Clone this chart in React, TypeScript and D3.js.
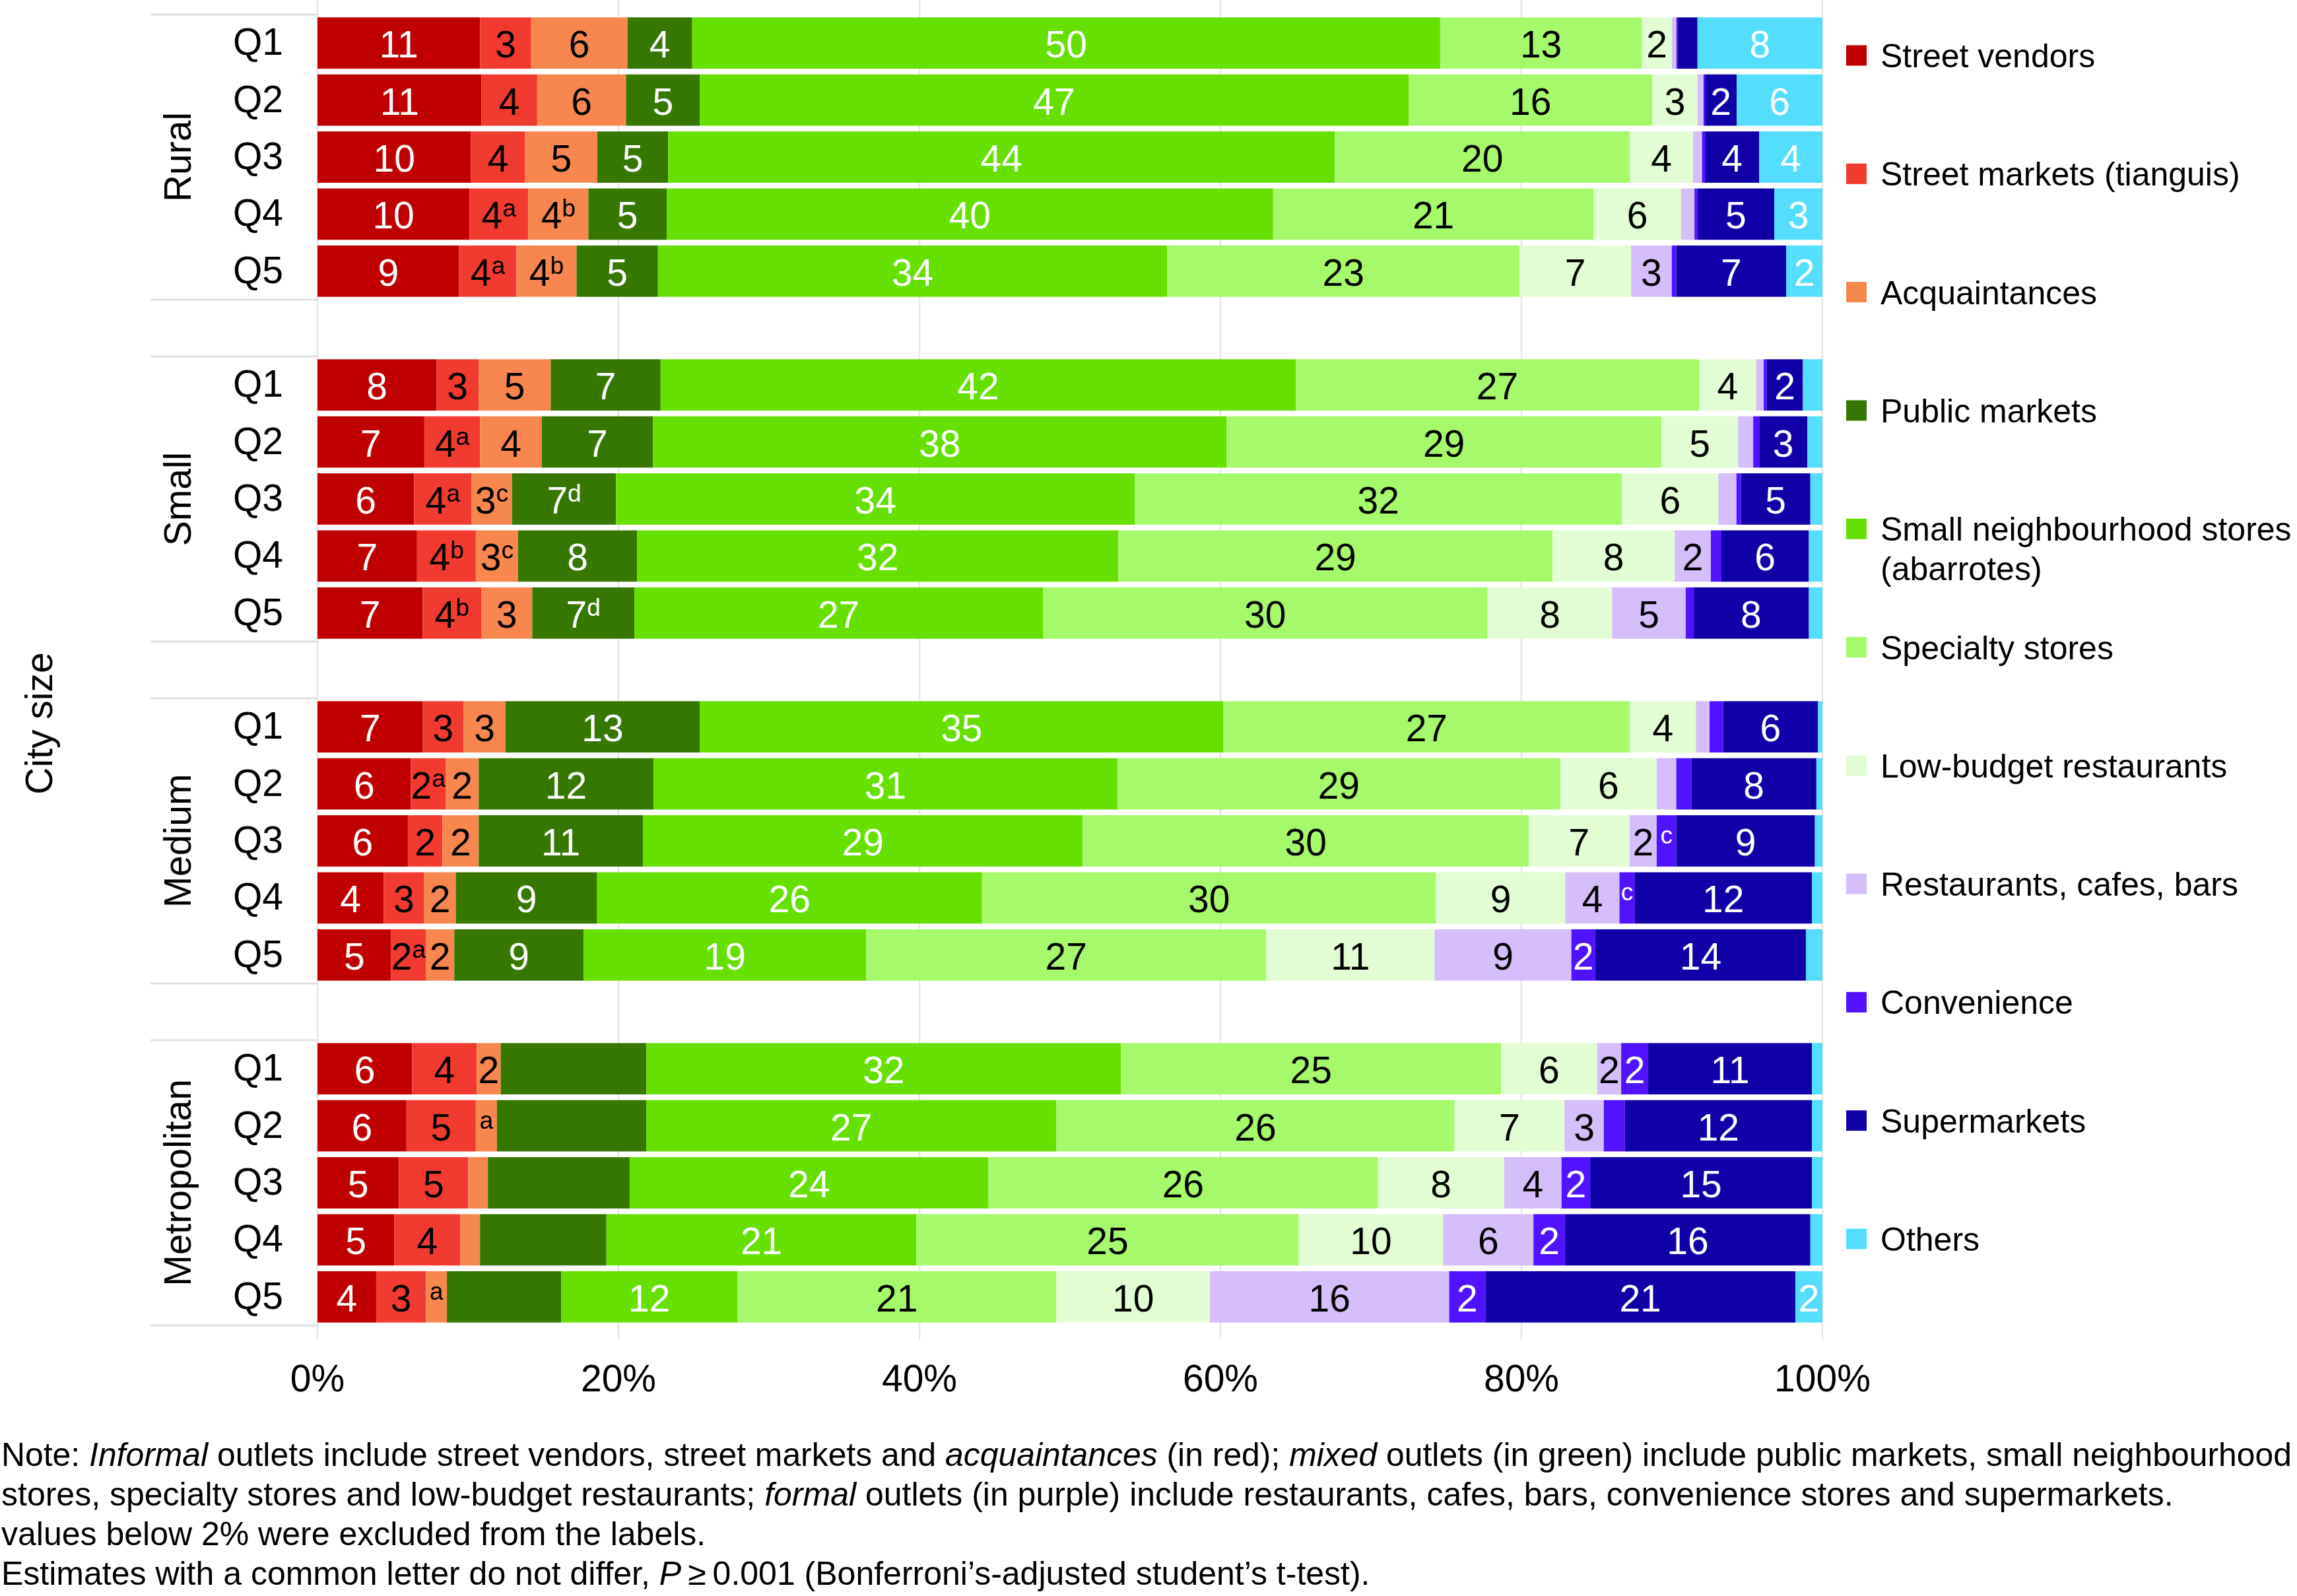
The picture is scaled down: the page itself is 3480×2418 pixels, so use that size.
import React from 'react';
import * as d3 from 'd3';

// ---------- data ----------
const groups = ['Rural', 'Small', 'Medium', 'Metropolitan'];
const quintiles = ['Q1', 'Q2', 'Q3', 'Q4', 'Q5'];

const seriesNames = [
  'Street vendors',
  'Street markets (tianguis)',
  'Acquaintances',
  'Public markets',
  'Small neighbourhood stores (abarrotes)',
  'Specialty stores',
  'Low-budget restaurants',
  'Restaurants, cafes, bars',
  'Convenience',
  'Supermarkets',
  'Others',
];
const legendLines = [
  ['Street vendors'],
  ['Street markets (tianguis)'],
  ['Acquaintances'],
  ['Public markets'],
  ['Small neighbourhood stores', '(abarrotes)'],
  ['Specialty stores'],
  ['Low-budget restaurants'],
  ['Restaurants, cafes, bars'],
  ['Convenience'],
  ['Supermarkets'],
  ['Others'],
];
const seriesColors = [
  '#C00000', '#F23B30', '#F7874F', '#367700', '#66E000', '#A6F96B',
  '#E2FCD3', '#D5BEFA', '#5012FF', '#1000A8', '#55DDFF',
];
const labelColors = ['#FFFFFF', '#000000', '#000000', '#FFFFFF', '#FFFFFF', '#000000', '#000000', '#000000', '#FFFFFF', '#FFFFFF', '#FFFFFF'];

// Values (%) in order: Rural Q1..Q5, Small Q1..Q5, Medium Q1..Q5, Metropolitan Q1..Q5
const streetVendors = [10.8, 10.9, 10.2, 10.1, 9.4, 7.9, 7.1, 6.4, 6.6, 7.0, 7.0, 6.2, 6.0, 4.4, 4.9, 6.3, 5.9, 5.4, 5.1, 3.9];
const streetMarkets = [3.4, 3.7, 3.6, 3.9, 3.8, 2.8, 3.7, 3.8, 3.9, 3.9, 2.7, 2.3, 2.3, 2.7, 2.3, 4.3, 4.6, 4.6, 4.4, 3.3];
const acquaintances = [6.4, 5.9, 4.8, 4.0, 4.0, 4.8, 4.1, 2.7, 2.8, 3.4, 2.8, 2.2, 2.4, 2.1, 1.9, 1.6, 1.4, 1.3, 1.3, 1.4];
const publicMarkets = [4.3, 4.9, 4.7, 5.2, 5.4, 7.3, 7.4, 6.9, 7.9, 6.8, 12.9, 11.6, 10.9, 9.4, 8.6, 9.7, 9.9, 9.4, 8.4, 7.6];
const smallStores = [49.7, 47.1, 44.3, 40.3, 33.8, 42.2, 38.1, 34.4, 31.9, 27.2, 34.8, 30.8, 29.2, 25.6, 18.8, 31.6, 27.2, 23.8, 20.6, 11.7];
const specialtyStores = [13.4, 16.2, 19.6, 21.3, 23.4, 26.8, 28.9, 32.3, 28.8, 29.6, 27.0, 29.4, 29.6, 30.2, 26.6, 25.3, 26.4, 25.8, 25.4, 21.2];
const lowBudget = [2.0, 3.0, 4.2, 5.8, 7.4, 3.8, 5.1, 6.4, 8.1, 8.3, 4.4, 6.4, 6.7, 8.6, 11.2, 6.4, 7.3, 8.4, 9.6, 10.2];
const restaurants = [0.3, 0.4, 0.6, 0.9, 2.7, 0.5, 1.0, 1.2, 2.4, 4.9, 0.9, 1.3, 1.8, 3.6, 9.1, 1.6, 2.6, 3.8, 6.0, 15.9];
const convenience = [0.1, 0.1, 0.2, 0.2, 0.3, 0.2, 0.4, 0.3, 0.7, 0.5, 0.9, 1.0, 1.3, 1.0, 1.6, 1.8, 1.4, 1.9, 2.1, 2.4];
const supermarkets = [1.3, 2.1, 3.6, 5.1, 7.3, 2.4, 3.2, 4.6, 5.8, 7.7, 6.3, 8.3, 9.2, 11.8, 14.0, 10.9, 12.4, 14.7, 16.3, 20.6];
const others = [8.3, 5.7, 4.2, 3.2, 2.4, 1.3, 1.0, 0.8, 0.9, 0.9, 0.3, 0.4, 0.5, 0.7, 1.1, 0.7, 0.7, 0.7, 0.8, 1.8];

const seriesValues = [streetVendors, streetMarkets, acquaintances, publicMarkets, smallStores, specialtyStores, lowBudget, restaurants, convenience, supermarkets, others];

// superscript letters: [group, quintile, series, letter]
const superscripts: [string, string, string, string][] = [
  ['Rural', 'Q4', 'Street markets (tianguis)', 'a'],
  ['Rural', 'Q4', 'Acquaintances', 'b'],
  ['Rural', 'Q5', 'Street markets (tianguis)', 'a'],
  ['Rural', 'Q5', 'Acquaintances', 'b'],
  ['Small', 'Q2', 'Street markets (tianguis)', 'a'],
  ['Small', 'Q3', 'Street markets (tianguis)', 'a'],
  ['Small', 'Q3', 'Acquaintances', 'c'],
  ['Small', 'Q3', 'Public markets', 'd'],
  ['Small', 'Q4', 'Street markets (tianguis)', 'b'],
  ['Small', 'Q4', 'Acquaintances', 'c'],
  ['Small', 'Q5', 'Street markets (tianguis)', 'b'],
  ['Small', 'Q5', 'Public markets', 'd'],
  ['Medium', 'Q2', 'Street markets (tianguis)', 'a'],
  ['Medium', 'Q3', 'Convenience', 'c'],
  ['Medium', 'Q4', 'Convenience', 'c'],
  ['Medium', 'Q5', 'Street markets (tianguis)', 'a'],
  ['Metropolitan', 'Q2', 'Acquaintances', 'a'],
  ['Metropolitan', 'Q5', 'Acquaintances', 'a'],
];
// segments drawn without a number label
const unlabeled: [string, string][] = [['Metropolitan', 'Public markets']];

const xTicks = [0, 0.2, 0.4, 0.6, 0.8, 1];
const yTitle = 'City size';
const noteLines = [
  [['Note: ', false], ['Informal', true], [' outlets include street vendors, street markets and ', false], ['acquaintances', true], [' (in red); ', false], ['mixed', true], [' outlets (in green) include public markets, small neighbourhood', false]],
  [['stores, specialty stores and low-budget restaurants; ', false], ['formal', true], [' outlets (in purple) include restaurants, cafes, bars, convenience stores and supermarkets.', false]],
  [['values below 2% were excluded from the labels.', false]],
  [['Estimates with a common letter do not differ, ', false], ['P', true], ['\u2009\u2265\u20090.001 (Bonferroni\u2019s-adjusted student\u2019s t-test).', false]],
] as [string, boolean][][];

// ---------- component ----------
const FONT = '"Liberation Sans", Arial, Helvetica, sans-serif';
const W = 3480;
const H = 2418;

export default function App() {
  const rows = groups.flatMap((g, gi) =>
    quintiles.map((q, qi) => {
      const r: any = { group: g, q, idx: gi * 5 + qi };
      seriesNames.forEach((s, si) => (r[s] = seriesValues[si][gi * 5 + qi]));
      return r;
    })
  );

  const stack = d3.stack<any>().keys(seriesNames).offset(d3.stackOffsetExpand);
  const stacked = stack(rows);

  const x = d3.scaleLinear().domain([0, 1]).range([481, 2761]);
  const yGroup = d3.scaleBand<string>().domain(groups).range([22, 2008]).paddingInner(0.166).paddingOuter(0);
  const yQ = d3.scaleBand<string>().domain(quintiles).range([0, yGroup.bandwidth()]).paddingInner(0.1).paddingOuter(0.05);

  const supLookup = new Map<string, string>();
  superscripts.forEach(([g, q, s, l]) => supLookup.set(`${g}|${q}|${s}`, l));
  const unlabeledSet = new Set(unlabeled.map(([g, s]) => `${g}|${s}`));

  const legendY0 = 84;
  const legendStep = 179.3;

  return (
    <svg
      width={W}
      height={H}
      viewBox={`0 0 ${W} ${H}`}
      style={{ position: 'absolute', left: 0, top: 0, display: 'block', background: '#fff' }}
      fontFamily={FONT}
    >
      <rect x={0} y={0} width={W} height={H} fill="#fff" />

      {/* vertical grid lines */}
      {xTicks.map((t) => (
        <line key={'g' + t} x1={x(t)} x2={x(t)} y1={0} y2={2030} stroke="#E6E6E6" strokeWidth={2.5} />
      ))}

      {/* strip border lines */}
      {groups.map((g) => (
        <g key={'sb' + g}>
          <line x1={228} x2={481} y1={yGroup(g)!} y2={yGroup(g)!} stroke="#E0E0E0" strokeWidth={3} />
          <line x1={228} x2={481} y1={yGroup(g)! + yGroup.bandwidth()} y2={yGroup(g)! + yGroup.bandwidth()} stroke="#E0E0E0" strokeWidth={3} />
        </g>
      ))}

      {/* bars */}
      {stacked.map((layer, si) => (
        <g key={'s' + si} fill={seriesColors[si]}>
          {layer.map((d, i) => {
            const row = rows[i];
            const y0 = yGroup(row.group)! + yQ(row.q)!;
            return (
              <rect
                key={i}
                x={x(d[0])}
                y={y0}
                width={Math.max(0, x(d[1]) - x(d[0]))}
                height={yQ.bandwidth()}
              />
            );
          })}
        </g>
      ))}

      {/* bar labels */}
      {stacked.map((layer, si) => (
        <g key={'l' + si} fill={labelColors[si]} textAnchor="middle" fontSize={57}>
          {layer.map((d, i) => {
            const row = rows[i];
            const name = seriesNames[si];
            const value = seriesValues[si][i];
            const rounded = Math.round(value);
            const sup = supLookup.get(`${row.group}|${row.q}|${name}`);
            const showNum = rounded >= 2 && !unlabeledSet.has(`${row.group}|${name}`);
            if (!showNum && !sup) return null;
            const cx = (x(d[0]) + x(d[1])) / 2;
            const cy = yGroup(row.group)! + yQ(row.q)! + yQ.bandwidth() / 2;
            return (
              <text key={i} x={cx} y={cy + 22}>
                {showNum ? <tspan>{rounded}</tspan> : null}
                {sup ? (
                  <tspan fontSize={37} dy={-18}>
                    {sup}
                  </tspan>
                ) : null}
              </text>
            );
          })}
        </g>
      ))}

      {/* quintile labels */}
      {groups.map((g) =>
        quintiles.map((q) => (
          <text
            key={g + q}
            x={391}
            y={yGroup(g)! + yQ(q)! + yQ.bandwidth() / 2 + 18}
            textAnchor="middle"
            fontSize={57}
            fill="#000"
          >
            {q}
          </text>
        ))
      )}

      {/* group strip labels */}
      {groups.map((g) => (
        <text
          key={'gl' + g}
          transform={`translate(289, ${yGroup(g)! + yGroup.bandwidth() / 2}) rotate(-90)`}
          textAnchor="middle"
          fontSize={57}
          fill="#000"
        >
          {g}
        </text>
      ))}

      {/* y title */}
      <text transform={`translate(79, 1096) rotate(-90)`} textAnchor="middle" fontSize={57} fill="#000">
        {yTitle}
      </text>

      {/* x tick labels */}
      {xTicks.map((t) => (
        <text key={'xt' + t} x={x(t)} y={2108} textAnchor="middle" fontSize={57} fill="#000">
          {d3.format('.0%')(t)}
        </text>
      ))}

      {/* legend */}
      {legendLines.map((lines, i) => {
        const cy = legendY0 + i * legendStep;
        return (
          <g key={'lg' + i}>
            <rect x={2797} y={cy - 15.5} width={31} height={31} fill={seriesColors[i]} />
            {lines.map((ln, j) => (
              <text key={j} x={2849} y={cy + 18 + j * 60} fontSize={50} fill="#000">
                {ln}
              </text>
            ))}
          </g>
        );
      })}

      {/* notes */}
      {noteLines.map((parts, li) => (
        <text
          key={'n' + li}
          x={2}
          y={2221 + li * 60}
          fontSize={50}
          fill="#000"
          {...(li === 0 ? { textLength: 3470, lengthAdjust: 'spacingAndGlyphs' } : {})}
        >
          {parts.map(([txt, it], k) => (
            <tspan key={k} fontStyle={it ? 'italic' : 'normal'}>
              {txt}
            </tspan>
          ))}
        </text>
      ))}
    </svg>
  );
}
